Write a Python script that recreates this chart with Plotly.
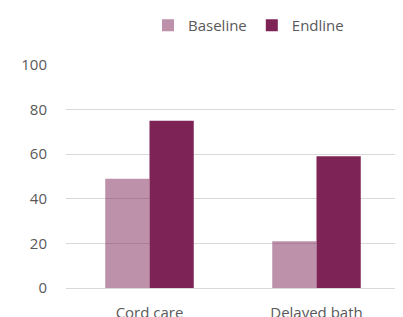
import plotly.graph_objects as go

categories = ["Cord care", "Delayed bath"]
baseline = [49, 21]
endline = [75, 59]
y_ticks = [0, 20, 40, 60, 80, 100]

fig = go.Figure()
fig.add_trace(go.Bar(x=categories, y=baseline, name="Baseline",
                     marker=dict(color="rgba(126,35,85,0.5)", line=dict(width=0))))
fig.add_trace(go.Bar(x=categories, y=endline, name="Endline",
                     marker=dict(color="#7E2355", line=dict(width=0))))

fig.update_layout(
    width=403, height=317,
    margin=dict(l=58, r=11, t=56, b=37, autoexpand=False),
    paper_bgcolor="white", plot_bgcolor="white",
    barmode="group", bargap=0.47, bargroupgap=0,
    font=dict(family="Open Sans", size=15, color="#595959"),
    showlegend=True,
    legend=dict(orientation="h", xref="container", yref="container",
                x=140/403, y=1 - 1/317, xanchor="left", yanchor="top",
                font=dict(size=15, color="#595959"), itemwidth=30,
                bgcolor="rgba(0,0,0,0)", traceorder="normal"),
    xaxis=dict(showgrid=False, showline=False, ticks="", tickfont=dict(size=15),
               ticklabelstandoff=14),
    yaxis=dict(range=[0, 100.4], tickvals=y_ticks, showgrid=True, gridcolor="#D9D9D9",
               gridwidth=1, zeroline=True, zerolinecolor="#D9D9D9", zerolinewidth=1,
               showline=False, ticks="", ticklabelstandoff=18, tickfont=dict(size=15)),
)

fig.write_html("out.html")
